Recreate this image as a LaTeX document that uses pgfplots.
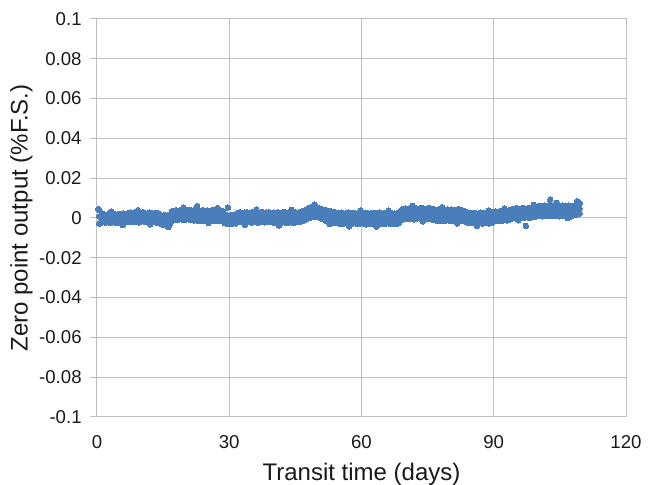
\documentclass[border=0pt]{standalone}
\usepackage{fontspec}
\setmainfont{Liberation Sans}
\usepackage{pgfplots}
\usepackage{pgfplotstable}
\pgfplotsset{compat=1.18}
\definecolor{mk}{HTML}{4A7EBB}
\definecolor{gridc}{HTML}{BFBFBF}
\definecolor{txt}{HTML}{1A1A1A}
\pgfplotstableread{
x hi mid lo
0.5 0.0040 0.0008 -0.0028
1 0.0016 -0.0003 -0.0024
1.5 0.0020 0.0000 -0.0020
2 0.0015 -0.0004 -0.0023
2.5 0.0019 0.0001 -0.0021
3 0.0022 -0.0002 -0.0025
3.5 0.0017 0.0000 -0.0019
4 0.0020 -0.0003 -0.0022
4.5 0.0016 0.0001 -0.0024
5 0.0021 -0.0001 -0.0020
5.5 0.0018 -0.0004 -0.0023
6 0.0023 0.0002 -0.0021
6.5 0.0019 -0.0002 -0.0018
7 0.0024 0.0003 -0.0020
7.5 0.0027 0.0001 -0.0017
8 0.0022 0.0005 -0.0021
8.5 0.0028 0.0002 -0.0016
9 0.0025 0.0004 -0.0019
9.5 0.0021 0.0000 -0.0022
10 0.0026 0.0003 -0.0017
10.5 0.0029 0.0005 -0.0015
11 0.0024 0.0002 -0.0020
11.5 0.0022 0.0004 -0.0018
12 0.0027 0.0001 -0.0021
12.5 0.0025 0.0003 -0.0016
13 0.0023 0.0000 -0.0019
13.5 0.0026 0.0002 -0.0023
14 0.0021 0.0001 -0.0020
14.5 0.0015 -0.0008 -0.0030
15 0.0012 -0.0011 -0.0034
15.5 0.0014 -0.0009 -0.0032
16 0.0011 -0.0012 -0.0035
16.5 0.0016 -0.0007 -0.0031
17 0.0032 0.0010 -0.0014
17.5 0.0036 0.0014 -0.0010
18 0.0039 0.0016 -0.0007
18.5 0.0035 0.0013 -0.0009
19 0.0040 0.0017 -0.0006
19.5 0.0037 0.0015 -0.0010
20 0.0034 0.0012 -0.0008
20.5 0.0038 0.0016 -0.0005
21 0.0041 0.0014 -0.0009
21.5 0.0036 0.0013 -0.0011
22 0.0039 0.0012 -0.0012
22.5 0.0042 0.0015 -0.0010
23 0.0037 0.0011 -0.0014
23.5 0.0035 0.0013 -0.0011
24 0.0039 0.0010 -0.0015
24.5 0.0036 0.0014 -0.0012
25 0.0038 0.0011 -0.0009
25.5 0.0034 0.0012 -0.0013
26 0.0037 0.0009 -0.0016
26.5 0.0040 0.0013 -0.0011
27 0.0036 0.0010 -0.0014
27.5 0.0033 0.0012 -0.0012
28 0.0037 0.0008 -0.0015
28.5 0.0035 0.0011 -0.0013
29 0.0016 -0.0005 -0.0026
29.5 0.0013 -0.0008 -0.0029
30 0.0011 -0.0006 -0.0027
30.5 0.0015 -0.0009 -0.0030
31 0.0012 -0.0007 -0.0025
31.5 0.0018 -0.0004 -0.0027
32 0.0026 0.0003 -0.0021
32.5 0.0029 0.0005 -0.0018
33 0.0024 0.0002 -0.0022
33.5 0.0028 0.0006 -0.0019
34 0.0030 0.0004 -0.0017
34.5 0.0025 0.0001 -0.0021
35 0.0027 0.0005 -0.0023
35.5 0.0031 0.0003 -0.0018
36 0.0026 0.0002 -0.0020
36.5 0.0023 0.0004 -0.0024
37 0.0028 0.0006 -0.0019
37.5 0.0030 0.0003 -0.0016
38 0.0025 0.0001 -0.0022
38.5 0.0027 0.0004 -0.0020
39 0.0029 0.0005 -0.0017
39.5 0.0024 0.0002 -0.0021
40 0.0028 0.0003 -0.0023
40.5 0.0026 0.0000 -0.0025
41 0.0029 0.0002 -0.0021
41.5 0.0025 0.0004 -0.0024
42 0.0027 0.0001 -0.0022
42.5 0.0030 0.0003 -0.0020
43 0.0024 0.0000 -0.0025
43.5 0.0027 0.0002 -0.0023
44 0.0029 0.0004 -0.0021
44.5 0.0025 0.0001 -0.0024
45 0.0028 0.0003 -0.0022
45.5 0.0026 0.0002 -0.0020
46 0.0030 0.0005 -0.0019
46.5 0.0033 0.0008 -0.0016
47 0.0038 0.0012 -0.0011
47.5 0.0043 0.0017 -0.0006
48 0.0050 0.0025 0.0000
48.5 0.0054 0.0029 0.0003
49 0.0057 0.0031 0.0005
49.5 0.0055 0.0032 0.0006
50 0.0053 0.0030 0.0004
50.5 0.0049 0.0026 0.0001
51 0.0045 0.0021 -0.0003
51.5 0.0041 0.0016 -0.0008
52 0.0039 0.0012 -0.0014
52.5 0.0036 0.0010 -0.0017
53 0.0034 0.0008 -0.0019
53.5 0.0031 0.0006 -0.0021
54 0.0028 0.0004 -0.0024
54.5 0.0026 0.0001 -0.0026
55 0.0024 -0.0001 -0.0028
55.5 0.0027 0.0000 -0.0030
56 0.0023 -0.0003 -0.0027
56.5 0.0025 0.0001 -0.0025
57 0.0028 -0.0002 -0.0029
57.5 0.0022 0.0000 -0.0031
58 0.0026 -0.0001 -0.0027
58.5 0.0024 0.0002 -0.0026
59 0.0021 -0.0003 -0.0030
59.5 0.0025 0.0000 -0.0028
60 0.0027 -0.0002 -0.0025
60.5 0.0023 0.0001 -0.0029
61 0.0026 -0.0001 -0.0032
61.5 0.0024 0.0000 -0.0027
62 0.0022 -0.0002 -0.0029
62.5 0.0026 0.0001 -0.0026
63 0.0025 -0.0003 -0.0030
63.5 0.0023 0.0000 -0.0028
64 0.0027 -0.0001 -0.0025
64.5 0.0024 0.0002 -0.0027
65 0.0022 -0.0002 -0.0031
65.5 0.0026 0.0000 -0.0028
66 0.0023 -0.0001 -0.0026
66.5 0.0025 0.0001 -0.0029
67 0.0022 -0.0002 -0.0030
67.5 0.0024 -0.0001 -0.0028
68 0.0022 -0.0002 -0.0029
68.5 0.0027 0.0002 -0.0024
69 0.0040 0.0014 -0.0012
69.5 0.0046 0.0020 -0.0005
70 0.0048 0.0023 -0.0003
70.5 0.0045 0.0021 -0.0006
71 0.0050 0.0024 -0.0002
71.5 0.0047 0.0022 -0.0004
72 0.0044 0.0020 -0.0007
72.5 0.0049 0.0023 -0.0003
73 0.0046 0.0025 -0.0001
73.5 0.0051 0.0022 -0.0004
74 0.0047 0.0019 -0.0006
74.5 0.0044 0.0021 -0.0002
75 0.0048 0.0024 -0.0005
75.5 0.0050 0.0022 -0.0003
76 0.0046 0.0020 -0.0007
76.5 0.0042 0.0017 -0.0010
77 0.0039 0.0014 -0.0013
77.5 0.0043 0.0016 -0.0011
78 0.0040 0.0012 -0.0015
78.5 0.0037 0.0014 -0.0012
79 0.0041 0.0015 -0.0014
79.5 0.0044 0.0013 -0.0010
80 0.0039 0.0016 -0.0013
80.5 0.0042 0.0012 -0.0016
81 0.0038 0.0014 -0.0011
81.5 0.0041 0.0015 -0.0013
82 0.0045 0.0013 -0.0012
82.5 0.0040 0.0011 -0.0015
83 0.0037 0.0012 -0.0014
83.5 0.0034 0.0009 -0.0017
84 0.0028 0.0003 -0.0022
84.5 0.0025 0.0001 -0.0024
85 0.0023 -0.0001 -0.0026
85.5 0.0026 0.0000 -0.0023
86 0.0024 0.0002 -0.0027
86.5 0.0022 -0.0002 -0.0025
87 0.0027 0.0000 -0.0024
87.5 0.0025 0.0001 -0.0028
88 0.0023 -0.0001 -0.0026
88.5 0.0026 0.0002 -0.0023
89 0.0024 -0.0002 -0.0027
89.5 0.0027 0.0001 -0.0025
90 0.0030 0.0006 -0.0018
90.5 0.0033 0.0009 -0.0014
91 0.0031 0.0011 -0.0012
91.5 0.0035 0.0008 -0.0015
92 0.0032 0.0010 -0.0013
92.5 0.0034 0.0012 -0.0011
93 0.0036 0.0011 -0.0012
93.5 0.0039 0.0014 -0.0008
94 0.0043 0.0020 -0.0003
94.5 0.0046 0.0023 0.0000
95 0.0049 0.0025 0.0002
95.5 0.0047 0.0022 0.0001
96 0.0045 0.0026 0.0003
96.5 0.0050 0.0024 0.0000
97 0.0048 0.0021 0.0002
97.5 0.0046 0.0025 0.0004
98 0.0051 0.0027 0.0001
98.5 0.0049 0.0024 0.0003
99 0.0052 0.0028 0.0005
99.5 0.0055 0.0030 0.0007
100 0.0058 0.0034 0.0010
100.5 0.0061 0.0036 0.0012
101 0.0059 0.0033 0.0009
101.5 0.0063 0.0037 0.0013
102 0.0060 0.0035 0.0011
102.5 0.0062 0.0038 0.0014
103 0.0058 0.0034 0.0010
103.5 0.0061 0.0036 0.0012
104 0.0064 0.0039 0.0013
104.5 0.0059 0.0035 0.0011
105 0.0057 0.0033 0.0009
105.5 0.0062 0.0036 0.0012
106 0.0060 0.0037 0.0014
106.5 0.0058 0.0034 0.0010
107 0.0063 0.0035 0.0011
107.5 0.0056 0.0033 0.0008
108 0.0061 0.0036 0.0013
108.5 0.0065 0.0040 0.0016
109 0.0070 0.0045 0.0019
109.5 0.0075 0.0048 0.0022
}\zdata
\begin{document}
\begin{tikzpicture}
\begin{axis}[
  scale only axis, width=264.5pt, height=199pt,
  xmin=0, xmax=120, ymin=-0.1, ymax=0.1,
  xtick={0,30,60,90,120},
  ytick={-0.1,-0.08,-0.06,-0.04,-0.02,0,0.02,0.04,0.06,0.08,0.1},
  yticklabels={-0.1,-0.08,-0.06,-0.04,-0.02,0,0.02,0.04,0.06,0.08,0.1},
  grid=major, major grid style={draw=gridc, line width=0.5pt},
  axis line style={draw=gridc, line width=0.5pt},
  tick align=outside, major tick length=3.5pt,
  tick pos=left,
  xtick style={draw=none},
  ytick style={draw=gridc, line width=0.5pt},
  tick label style={font=\fontsize{9.3}{11}\selectfont, text=txt},
  /pgf/number format/assume math mode=true,
  yticklabel style={inner sep=0pt, anchor=east, xshift=-4pt},
  xticklabel style={inner sep=0pt, anchor=north, yshift=-5.5pt},
  xlabel={Transit time (days)},
  ylabel={Zero point output (\%F.S.)},
  every axis x label/.style={at={(axis description cs:0.5,-0.1156)}, anchor=north, inner sep=0pt, font=\fontsize{12}{14}\selectfont, text=txt},
  every axis y label/.style={at={(axis description cs:-0.121,0.5)}, anchor=south, rotate=90, inner sep=0pt, font=\fontsize{12}{14}\selectfont, text=txt},
]
\coordinate (sw) at (rel axis cs:0,0);
\coordinate (ne) at (rel axis cs:1,1);
\addplot[only marks, mark=*, mark size=1.4pt, mark options={draw=mk, fill=mk, line width=0pt}] table[x=x, y=hi] {\zdata};
\addplot[only marks, mark=*, mark size=1.4pt, mark options={draw=mk, fill=mk, line width=0pt}] table[x=x, y=mid] {\zdata};
\addplot[only marks, mark=*, mark size=1.4pt, mark options={draw=mk, fill=mk, line width=0pt}] table[x=x, y=lo] {\zdata};
\addplot[only marks, mark=*, mark size=1.4pt, mark options={draw=mk, fill=mk, line width=0pt}] coordinates {
(3.2,0.0032) (5.8,-0.0036) (9.3,0.0040) (12.1,-0.0032) (16.2,-0.0046) (19.6,0.0052)
(25.3,-0.0026) (27.4,0.0050) (33.6,-0.0034) (36.1,0.0042) (41.3,-0.0038) (44.2,0.0041)
(49.4,0.0068) (52.8,-0.0030) (57.2,-0.0042) (59.8,0.0038) (63.4,-0.0043) (66.1,0.0037)
(71.6,0.0061) (73.9,-0.0017) (78.3,0.0055) (81.7,-0.0027) (86.2,-0.0040) (88.9,0.0038)
(92.4,0.0047) (95.6,-0.0012) (99.1,0.0066) (104.2,0.0076) (106.8,-0.0001) (108.9,0.0085)
(22.7,0.0060) (29.7,0.0052) (97.3,-0.0040) (102.8,0.0092) (0.3,0.0045)};
\end{axis}
\pgfresetboundingbox
\path ([shift={(-48.5pt,-34pt)}]sw) rectangle ([shift={(14pt,9.5pt)}]ne);
\end{tikzpicture}
\end{document}
